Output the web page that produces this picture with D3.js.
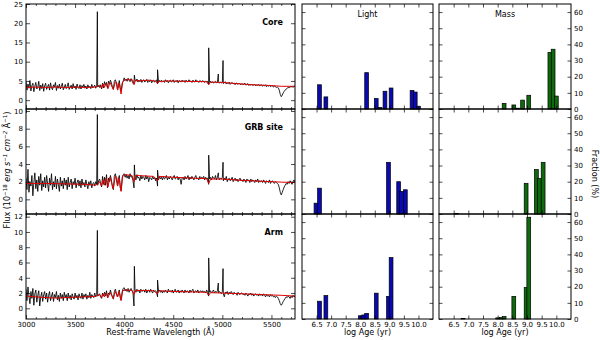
<!DOCTYPE html>
<html><head><meta charset="utf-8">
<script src="https://cdn.jsdelivr.net/npm/d3@7"></script>
<style>body{margin:0;background:#fff}svg{display:block;font-family:"DejaVu Sans",sans-serif}</style>
</head><body><svg id="c" width="600" height="340"></svg>
<script>
// ---------------- DATA ----------------
const panelNames = ["Core", "GRB site", "Arm"];
const waveStart = 3000, waveStep = 10;            // observed-spectrum sampling grid (Å)
const coreFlux = [
 4.8,2.6,4.2,3.1,5.1,2.4,3.8,4.4,2.2,3.6,4.6,2.9,3.3,4.9,2.5,3.9,3.0,4.3,2.3,3.7,
 4.4,2.8,3.5,4.1,2.6,4.5,3.2,2.7,4.0,3.4,4.6,2.5,3.8,3.1,4.2,2.9,3.6,4.4,2.7,3.3,
 4.1,3.0,3.6,4.5,2.8,3.4,3.9,2.9,4.3,3.2,3.7,2.8,4.2,3.3,3.0,4.0,2.9,3.8,3.4,4.1,
 3.1,3.7,2.9,4.0,3.3,3.6,3.0,4.1,3.2,3.5,3.9,3.1,3.7,3.4,3.8,3.3,4.0,2.9,4.4,3.2,
 4.8,3.9,4.6,3.1,4.9,4.2,5.2,4.5,3.4,2.8,4.9,5.3,4.6,2.9,3.7,5.1,3.2,2.4,4.4,4.9,
 5.8,5.1,5.5,4.9,5.7,5.2,4.8,5.6,5.0,4.4,4.1,5.3,4.9,5.5,4.7,5.2,4.8,5.4,4.6,5.1,
 5.3,4.7,5.0,5.4,4.6,5.1,4.8,5.3,4.5,5.0,5.2,4.7,4.9,5.3,4.2,4.6,5.1,4.7,5.2,4.8,
 5.0,4.6,5.3,4.8,5.1,4.5,5.0,5.2,4.7,4.9,5.3,4.6,5.0,4.8,5.2,4.5,5.1,4.9,4.7,5.2,
 4.8,5.1,4.6,5.2,4.9,4.7,5.3,4.8,5.0,4.6,5.2,4.9,4.7,5.3,4.8,5.0,4.6,5.1,4.9,4.7,
 5.1,4.8,4.6,5.0,4.7,4.9,4.1,4.6,4.9,4.5,4.8,4.4,4.7,4.9,4.5,4.6,4.8,4.4,4.7,4.5,
 4.7,4.3,4.6,4.8,4.2,4.5,4.3,4.7,4.1,4.4,4.6,4.2,4.4,4.0,4.5,4.3,4.1,4.4,4.2,4.0,
 4.3,4.0,4.2,4.4,3.9,4.1,4.3,3.8,4.1,3.9,4.2,3.8,4.0,4.1,3.7,4.0,3.8,4.1,3.7,3.9,
 4.0,3.6,3.9,3.7,4.0,3.5,3.8,3.6,3.9,3.5,3.7,3.8,3.4,3.6,3.5,3.3,3.4,3.2,2.6,1.5,
 0.9,1.3,1.9,2.3,2.6,2.9,3.1,3.3,3.2,3.5,3.4,3.6,3.3,3.7,3.5];
const grbFlux = [
 2.4,1.1,3.4,0.8,2.0,1.5,2.7,0.4,1.9,3.0,1.2,2.2,0.9,2.6,1.6,2.9,1.0,2.1,1.4,2.5,
 1.3,2.7,1.8,0.9,2.4,1.6,2.9,1.1,2.0,1.4,2.6,1.2,2.3,1.7,0.9,2.5,1.5,2.1,1.2,2.4,
 1.6,2.2,1.1,2.5,1.4,1.9,2.3,1.2,2.0,1.7,2.4,1.3,1.9,2.2,1.5,2.1,1.3,2.3,1.6,1.9,
 1.4,2.2,1.7,1.2,2.0,1.6,2.1,1.3,1.8,1.9,1.5,2.0,1.7,1.6,2.1,2.3,1.8,1.4,2.6,1.7,
 2.5,1.6,2.8,1.3,2.4,2.0,2.7,2.2,1.4,1.1,2.6,2.9,2.3,1.6,2.2,2.7,1.3,1.0,2.5,2.8,
 2.9,2.5,2.8,2.4,2.7,2.3,2.9,2.5,2.6,2.1,1.3,2.6,2.2,2.8,2.4,2.5,2.1,2.7,2.3,2.6,
 2.5,2.2,2.7,2.3,2.6,2.0,2.5,2.4,2.2,2.6,2.3,2.5,2.1,2.4,1.5,2.2,2.6,2.3,2.5,2.2,
 2.6,2.3,2.4,2.7,2.2,2.5,2.3,2.6,2.4,2.2,2.5,2.7,2.3,2.4,2.6,2.2,2.5,2.3,1.7,2.4,
 2.5,2.2,2.6,2.3,2.4,2.7,2.2,2.5,2.3,2.6,2.4,2.2,2.5,2.7,2.3,2.4,2.2,2.6,2.3,2.5,
 2.4,2.6,2.2,2.5,2.3,2.4,1.7,2.3,2.5,2.2,2.6,2.4,2.3,2.7,2.2,2.5,2.6,2.2,2.4,2.3,
 2.5,2.1,2.4,2.2,2.6,2.0,2.3,2.4,2.1,2.3,2.5,2.0,2.2,2.4,2.1,2.3,2.0,2.2,2.4,2.1,
 2.2,2.0,2.3,2.1,1.9,2.3,2.1,2.2,1.9,2.3,2.0,2.2,2.1,1.9,2.2,2.0,2.3,1.9,2.1,2.0,
 2.1,1.9,2.2,2.0,1.8,2.1,2.0,1.9,2.2,1.8,2.0,2.1,1.9,1.8,2.0,1.9,1.8,1.7,1.3,0.8,
 0.5,0.8,1.1,1.4,1.6,1.8,1.7,2.0,1.8,2.1,1.9,1.7,2.0,2.2,1.9];
const armFlux = [
 2.5,1.0,2.8,1.6,0.6,2.2,1.3,2.6,0.4,1.9,2.4,0.8,1.7,2.3,0.3,1.5,2.1,0.9,1.8,2.2,
 1.2,2.0,0.8,1.7,2.2,1.0,1.6,2.1,0.9,1.8,1.4,2.2,1.1,1.7,0.9,2.0,1.3,1.8,1.0,2.1,
 1.4,1.8,1.0,2.0,1.3,1.7,1.1,1.9,1.5,1.2,2.0,1.4,1.7,1.1,1.9,1.5,1.3,2.0,1.2,1.8,
 1.5,1.9,1.2,1.7,1.4,2.1,1.3,1.8,1.6,1.4,2.0,1.5,1.8,1.6,1.7,1.9,1.5,1.3,2.0,1.6,
 2.1,1.6,2.3,1.4,2.0,1.8,2.4,1.9,1.5,1.2,2.2,2.5,2.0,1.5,1.9,2.4,1.4,1.1,2.2,2.6,
 2.7,2.3,2.5,2.2,2.6,2.1,2.4,2.6,2.3,2.0,0.3,2.4,2.1,2.5,2.2,2.4,2.0,2.5,2.2,2.3,
 2.4,2.1,2.5,2.0,2.3,2.4,2.1,2.5,2.2,2.0,2.4,2.2,2.3,2.1,1.5,2.2,2.4,2.1,2.3,2.0,
 2.3,2.1,2.4,2.2,2.0,2.5,2.2,2.3,2.1,2.4,2.0,2.3,2.5,2.1,2.2,2.4,2.0,2.3,2.1,2.4,
 2.2,2.0,2.4,2.1,2.3,2.2,2.0,2.4,2.1,2.3,2.5,2.0,2.2,2.3,2.1,2.4,2.0,2.2,2.3,2.1,
 2.3,2.1,2.2,2.0,2.4,2.1,1.6,2.1,2.3,2.0,2.2,2.4,2.0,2.2,2.1,2.3,2.0,2.2,2.1,1.9,
 2.2,1.9,1.5,2.1,2.0,2.2,1.8,2.1,1.9,2.2,2.0,1.8,2.1,1.9,2.0,1.7,2.1,1.9,1.8,2.0,
 2.0,1.8,1.9,1.7,2.0,1.8,1.6,1.9,1.8,2.0,1.7,1.9,1.6,1.8,1.9,1.7,1.8,1.6,1.9,1.7,
 1.8,1.6,1.9,1.7,1.5,1.8,1.6,1.7,1.5,1.8,1.6,1.7,1.5,1.6,1.4,1.6,1.5,1.3,1.0,0.6,
 0.4,0.6,0.9,1.1,1.3,1.5,1.4,1.6,1.5,1.3,1.6,1.4,1.7,1.5,1.6];
// emission lines: [OII], Hδ, Hγ, Hβ, [OIII], [OIII]
const lineWave  = [3727, 4104, 4340, 4861, 4959, 5007];
const coreLines = [23.0, 6.5, 7.9, 13.6, 6.8, 10.3];
const grbLines  = [9.6, 3.9, 3.3, 5.0, 3.0, 4.2];
const armLines  = [10.2, 5.5, 3.7, 6.6, 3.3, 5.2];
// fitted model (red), [wavelength, flux]
const coreModel = [[3000,3.3],[3100,3.4],[3200,3.3],[3300,3.4],[3400,3.3],[3500,3.4],[3600,3.3],[3700,3.4],[3730,3.6],[3750,3.9],[3770,3.1],[3785,4.2],[3798,3.3],[3815,4.4],[3835,3.0],[3855,4.6],[3889,2.8],[3910,4.7],[3925,4.5],[3934,2.6],[3950,4.4],[3968,1.6],[3985,4.8],[4010,5.3],[4060,5.3],[4090,5.2],[4101,4.1],[4115,5.2],[4150,5.0],[4250,5.2],[4325,4.9],[4340,4.3],[4355,5.0],[4380,4.8],[4420,5.0],[4600,4.9],[4840,4.8],[4861,4.0],[4880,4.7],[5000,4.6],[5100,4.4],[5200,4.2],[5300,4.0],[5400,3.9],[5500,3.8],[5600,3.6],[5740,3.6]];
const grbModel = [[3000,1.8],[3200,1.8],[3400,1.75],[3600,1.7],[3700,1.6],[3730,1.7],[3750,2.0],[3770,1.5],[3785,2.2],[3798,1.6],[3815,2.4],[3835,1.4],[3855,2.5],[3889,1.2],[3910,2.6],[3925,2.5],[3934,1.5],[3950,2.4],[3968,0.9],[3985,2.6],[4010,2.8],[4080,2.7],[4101,2.0],[4115,2.7],[4300,2.6],[4340,2.1],[4355,2.6],[4500,2.5],[4700,2.4],[4840,2.35],[4861,1.8],[4880,2.3],[5000,2.3],[5200,2.15],[5400,2.05],[5600,1.95],[5740,1.9]];
const armModel = [[3000,1.6],[3100,1.5],[3200,1.4],[3300,1.35],[3400,1.4],[3500,1.45],[3600,1.5],[3700,1.55],[3750,1.8],[3770,1.4],[3785,1.9],[3798,1.5],[3815,2.0],[3835,1.4],[3855,2.1],[3889,1.3],[3910,2.2],[3934,1.5],[3950,2.2],[3968,1.0],[3985,2.3],[4010,2.4],[4080,2.35],[4101,1.8],[4115,2.35],[4300,2.3],[4340,1.9],[4355,2.3],[4500,2.2],[4700,2.15],[4840,2.1],[4861,1.7],[4880,2.05],[5000,2.0],[5200,1.9],[5400,1.8],[5600,1.7],[5740,1.6]];
// star-formation history (percent)
const ageBins   = [6.48, 6.6, 6.82, 8.0, 8.12, 8.22, 8.55, 8.68, 8.85, 8.97, 9.06, 9.32, 9.42, 9.55, 9.78, 9.89, 10.0];
const coreLight = [0, 15, 7.5, 0, 0, 22.5, 6.5, 1, 11, 0, 13, 0, 0, 0, 11.5, 10.5, 1.5];
const coreMass  = [0, 0, 0, 0, 0, 3.5, 2.5, 0.5, 5.5, 0, 8.5, 0, 0, 0, 35, 37, 8];
const grbLight  = [6.7, 16, 0, 0, 0, 0, 0, 0, 0, 32, 0, 20, 14, 15, 0, 0, 0];
const grbMass   = [0, 0.3, 0, 0, 0, 0, 0, 0, 0, 19, 0, 27.5, 22, 32, 0, 0, 0];
const armLight  = [0, 11, 14.5, 2, 2.5, 3.5, 16, 0, 0, 14, 38, 0, 0, 0, 0, 0, 0];
const armMass   = [0, 0, 0.3, 0.7, 0.9, 1.5, 14, 0, 0, 19.5, 63, 0, 0, 0, 0, 0, 0];
const specYTicks = [[0,5,10,15,20,25],[0,2,4,6,8,10],[0,2,4,6,8,10,12]];
const ageTicks = [6.5,7.0,7.5,8.0,8.5,9.0,9.5,10.0];
const fracTicks = [0,10,20,30,40,50,60];

// ---------------- LAYOUT ----------------
const svg = d3.select("#c");
const SX = [26, 295], tops = [4, 109, 214], PH = 105;
const LX = [302, 433], MX = [439, 571];
const specYDom = [[-2.3, 25], [-1.66, 10.23], [-1.4, 12.35]];
const fluxes = [coreFlux, grbFlux, armFlux];
const lines = [coreLines, grbLines, armLines];
const models = [coreModel, grbModel, armModel];
const lights = [coreLight, grbLight, armLight];
const masses = [coreMass, grbMass, armMass];

const x = d3.scaleLinear().domain([3000, 5740]).range(SX);
const xl = d3.scaleLinear().domain([6.0, 10.5]).range(LX);
const xm = d3.scaleLinear().domain([6.0, 10.5]).range(MX);
const fs = "7px";

function styleAxis(g){
  g.select(".domain").remove();
  g.selectAll(".tick line").attr("stroke","#000").attr("stroke-width",0.7);
  g.selectAll(".tick text").attr("font-size",fs).attr("fill","#000").attr("font-family","DejaVu Sans, sans-serif");
}

for (let p = 0; p < 3; p++) {
  const top = tops[p], bot = top + PH;
  const y = d3.scaleLinear().domain(specYDom[p]).range([bot, top]);
  const clipId = "clip" + p;
  svg.append("clipPath").attr("id", clipId).append("rect")
     .attr("x", SX[0]).attr("y", top).attr("width", SX[1]-SX[0]).attr("height", PH);
  const pts = fluxes[p].map((f,i)=>[waveStart + i*waveStep, f]);
  lineWave.forEach((w,j)=>pts.push([w, lines[p][j]]));
  pts.sort((a,b)=>a[0]-b[0]);
  const ln = d3.line().x(d=>x(d[0])).y(d=>y(d[1]));
  const gp = svg.append("g").attr("clip-path", `url(#${clipId})`);
  gp.append("path").attr("d", ln(pts)).attr("fill","none").attr("stroke","#000").attr("stroke-width",0.85);
  gp.append("path").attr("d", ln(models[p])).attr("fill","none").attr("stroke","#e00000").attr("stroke-width",1);
  const left = svg.append("g").attr("transform",`translate(${SX[0]},0)`)
     .call(d3.axisLeft(y).tickValues(specYTicks[p]).tickSize(-4).tickPadding(3).tickFormat(d3.format("d")));
  styleAxis(left);
  const right = svg.append("g").attr("transform",`translate(${SX[1]},0)`)
     .call(d3.axisRight(y).tickValues(specYTicks[p]).tickSize(-4).tickFormat(""));
  styleAxis(right);
  const xTicks = d3.range(3000, 5741, 500);
  const xMinor = d3.range(3000, 5741, 100).filter(v=>v%500);
  const bx = svg.append("g").attr("transform",`translate(0,${bot})`)
     .call(d3.axisBottom(x).tickValues(xTicks).tickSize(-4).tickPadding(3).tickFormat(p===2?d3.format("d"):""));
  styleAxis(bx);
  const bxm = svg.append("g").attr("transform",`translate(0,${bot})`)
     .call(d3.axisBottom(x).tickValues(xMinor).tickSize(-2).tickFormat(""));
  styleAxis(bxm);
  const tx = svg.append("g").attr("transform",`translate(0,${top})`)
     .call(d3.axisTop(x).tickValues(xTicks).tickSize(-4).tickFormat(""));
  styleAxis(tx);
  const txm = svg.append("g").attr("transform",`translate(0,${top})`)
     .call(d3.axisTop(x).tickValues(xMinor).tickSize(-2).tickFormat(""));
  styleAxis(txm);
  svg.append("rect").attr("x",SX[0]).attr("y",top).attr("width",SX[1]-SX[0]).attr("height",PH)
     .attr("fill","none").attr("stroke","#000").attr("stroke-width",1);
  svg.append("text").attr("x", 283).attr("y", top + 21).attr("text-anchor","end")
     .attr("font-size","8px").attr("font-weight","bold").text(panelNames[p]);

  const yh = d3.scaleLinear().domain([0, 65]).range([bot, top]);
  const bw = 0.13;
  [[xl, lights[p], "#0a0ab4", LX], [xm, masses[p], "#0d6b0d", MX]].forEach(([xs, vals, col, XR], k) => {
    const g = svg.append("g");
    g.selectAll("rect").data(ageBins.map((a,i)=>({a, v: vals[i]})).filter(d=>d.v>0)).join("rect")
      .attr("x", d=>xs(d.a - bw/2)).attr("width", d=>xs(d.a + bw/2) - xs(d.a - bw/2))
      .attr("y", d=>yh(d.v)).attr("height", d=>yh(0)-yh(d.v))
      .attr("fill", col).attr("stroke","#000").attr("stroke-width",0.7);
    const l = svg.append("g").attr("transform",`translate(${XR[0]},0)`)
       .call(d3.axisLeft(yh).tickValues(fracTicks).tickSize(-3.5).tickFormat(""));
    styleAxis(l);
    const r = svg.append("g").attr("transform",`translate(${XR[1]},0)`)
       .call(d3.axisRight(yh).tickValues(fracTicks).tickSize(-3.5).tickPadding(3).tickFormat(k===1?d3.format("d"):""));
    styleAxis(r);
    const b = svg.append("g").attr("transform",`translate(0,${bot})`)
       .call(d3.axisBottom(xs).tickValues(ageTicks).tickSize(-3.5).tickPadding(3).tickFormat(p===2?d3.format(".1f"):""));
    styleAxis(b);
    const t = svg.append("g").attr("transform",`translate(0,${top})`)
       .call(d3.axisTop(xs).tickValues(ageTicks).tickSize(-3.5).tickFormat(""));
    styleAxis(t);
    svg.append("rect").attr("x",XR[0]).attr("y",top).attr("width",XR[1]-XR[0]).attr("height",PH)
       .attr("fill","none").attr("stroke","#000").attr("stroke-width",1);
  });
}

svg.append("text").attr("x", (LX[0]+LX[1])/2).attr("y", 17).attr("text-anchor","middle").attr("font-size","8px").text("Light");
svg.append("text").attr("x", (MX[0]+MX[1])/2).attr("y", 17).attr("text-anchor","middle").attr("font-size","8px").text("Mass");
svg.append("text").attr("x", (SX[0]+SX[1])/2).attr("y", 335).attr("text-anchor","middle").attr("font-size","8px").text("Rest-frame Wavelength (Å)");
svg.append("text").attr("x", (LX[0]+LX[1])/2).attr("y", 335).attr("text-anchor","middle").attr("font-size","8px").text("log Age (yr)");
svg.append("text").attr("x", (MX[0]+MX[1])/2).attr("y", 335).attr("text-anchor","middle").attr("font-size","8px").text("log Age (yr)");
svg.append("text").attr("transform","translate(592,174) rotate(90)").attr("text-anchor","middle").attr("font-size","8px").text("Fraction (%)");

const fl = svg.append("text").attr("transform","translate(10,170) rotate(-90)").attr("text-anchor","middle").attr("font-size","8px");
const parts = [["Flux (10",0,false],["−18",1,false],[" erg s",0,true],["−1",1,true],[" cm",0,true],["−2",1,true],[" Å",0,false],["−1",1,false],[")",0,false]];
parts.forEach(([t, sup, it], i) => {
  const ts = fl.append("tspan").text(t);
  if (sup) ts.attr("font-size","5.5px").attr("dy","-3.5");
  else if (i > 0 && parts[i-1][1]) ts.attr("dy","3.5");
  if (it) ts.attr("font-style","italic");
});
</script></body></html>
